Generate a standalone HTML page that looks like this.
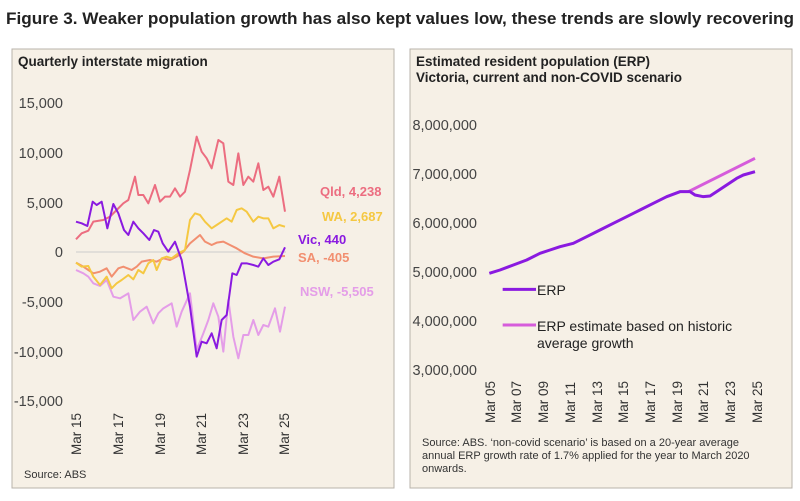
<!DOCTYPE html>
<html><head><meta charset="utf-8"><style>
body{margin:0;background:#fff;width:800px;height:496px;overflow:hidden;font-family:"Liberation Sans",sans-serif}
</style></head><body>
<svg width="800" height="496" xmlns="http://www.w3.org/2000/svg" font-family="Liberation Sans, sans-serif">
<rect width="800" height="496" fill="#fff"/>
<text x="6" y="24" font-size="17" font-weight="bold" fill="#222" textLength="788" lengthAdjust="spacingAndGlyphs">Figure 3. Weaker population growth has also kept values low, these trends are slowly recovering</text>
<rect x="12" y="49" width="382" height="439" fill="#f6f0e6" stroke="#b8b3ab" stroke-width="1"/>
<rect x="410" y="49" width="382" height="439" fill="#f6f0e6" stroke="#b8b3ab" stroke-width="1"/>
<text x="18" y="66" font-size="13.5" font-weight="bold" fill="#222">Quarterly interstate migration</text>
<g font-size="14.5" fill="#444" text-anchor="end">
<text x="63" y="108">15,000</text><text x="63" y="158">10,000</text><text x="63" y="208">5,000</text>
<text x="63" y="257">0</text><text x="63" y="307">-5,000</text><text x="63" y="357">-10,000</text><text x="63" y="406">-15,000</text>
</g>
<line x1="76" y1="252" x2="286" y2="252" stroke="#ccc" stroke-width="1"/>
<g font-size="13.5" fill="#333">
<text transform="translate(81,455) rotate(-90)">Mar 15</text>
<text transform="translate(123,455) rotate(-90)">Mar 17</text>
<text transform="translate(165,455) rotate(-90)">Mar 19</text>
<text transform="translate(206,455) rotate(-90)">Mar 21</text>
<text transform="translate(248,455) rotate(-90)">Mar 23</text>
<text transform="translate(289,455) rotate(-90)">Mar 25</text>
</g>
<text x="24" y="478" font-size="11" fill="#333">Source: ABS</text>
<g transform="translate(0,40) scale(0.33333)" fill="none" stroke-width="6" stroke-linejoin="round">
<polyline stroke="#e49de8" points="228,690 250,700 265,710 280,730 300,738 320,720 340,770 360,775 385,760 400,840 420,815 440,800 460,850 475,820 490,805 515,790 530,860 545,815 570,760 590,930 610,880 625,840 640,790 655,830 670,935 685,780 700,890 715,955 730,885 745,885 760,840 775,885 790,855 805,860 825,805 840,875 855,800"/>
<polyline stroke="#f28f70" points="228,668 250,680 265,690 280,700 300,695 320,685 335,710 355,685 370,680 395,690 410,680 425,665 450,660 470,665 490,655 510,660 530,650 550,635 570,610 600,585 615,605 635,615 650,608 670,605 690,615 710,625 735,640 760,650 790,655 820,650 855,648"/>
<polyline stroke="#f5c842" points="228,668 245,680 265,678 280,710 300,735 320,710 335,745 350,730 365,720 385,705 400,718 415,690 430,700 445,670 460,660 470,690 485,655 500,650 515,655 535,640 555,630 570,540 585,520 600,525 615,545 635,565 650,555 665,545 680,535 695,545 710,510 725,505 740,515 760,545 775,530 790,535 805,535 820,565 838,555 855,560"/>
<polyline stroke="#ec6d80" points="228,598 245,580 265,572 280,545 310,540 330,530 350,510 370,490 385,480 405,410 415,465 430,465 445,490 465,435 480,485 495,470 510,470 525,445 540,470 555,455 570,390 590,290 605,335 620,355 635,385 655,300 670,310 685,425 700,435 715,340 730,435 745,410 760,425 775,370 790,450 805,440 820,470 838,410 855,515"/>
<polyline stroke="#8a1ae0" points="228,545 245,550 262,558 278,485 290,495 305,485 322,565 340,492 355,520 372,570 385,585 400,545 415,565 430,580 448,600 462,570 475,575 488,610 505,635 525,605 545,660 570,800 590,950 605,905 620,910 635,880 650,925 665,840 680,825 697,700 710,705 725,670 740,670 760,675 775,680 790,655 805,675 820,665 838,658 855,622"/>
</g>
<g font-size="13" font-weight="bold">
<text x="320" y="196" fill="#ec6d80">Qld, 4,238</text>
<text x="322" y="221" fill="#f5c842">WA, 2,687</text>
<text x="298" y="244" fill="#8a1ae0">Vic, 440</text>
<text x="298" y="262" fill="#f28f70">SA, -405</text>
<text x="300" y="296" fill="#e49de8">NSW, -5,505</text>
</g>
<text x="416" y="66" font-size="13.5" font-weight="bold" fill="#222">Estimated resident population (ERP)</text>
<text x="416" y="82" font-size="13.5" font-weight="bold" fill="#222">Victoria, current and non-COVID scenario</text>
<g font-size="14.5" fill="#444" text-anchor="end">
<text x="477" y="130">8,000,000</text><text x="477" y="179">7,000,000</text><text x="477" y="228">6,000,000</text>
<text x="477" y="277">5,000,000</text><text x="477" y="326">4,000,000</text><text x="477" y="375">3,000,000</text>
</g>
<g font-size="13.5" fill="#333">
<text transform="translate(495,423) rotate(-90)">Mar 05</text>
<text transform="translate(521,423) rotate(-90)">Mar 07</text>
<text transform="translate(548,423) rotate(-90)">Mar 09</text>
<text transform="translate(575,423) rotate(-90)">Mar 11</text>
<text transform="translate(602,423) rotate(-90)">Mar 13</text>
<text transform="translate(628,423) rotate(-90)">Mar 15</text>
<text transform="translate(655,423) rotate(-90)">Mar 17</text>
<text transform="translate(682,423) rotate(-90)">Mar 19</text>
<text transform="translate(708,423) rotate(-90)">Mar 21</text>
<text transform="translate(735,423) rotate(-90)">Mar 23</text>
<text transform="translate(762,423) rotate(-90)">Mar 25</text>
</g>
<g transform="translate(400,40) scale(0.33333)" fill="none" stroke-linejoin="round">
<polyline stroke="#d65cdb" stroke-width="9" points="865,455 1065,355"/>
<polyline stroke="#8a1ae0" stroke-width="9" points="268,700 300,690 340,675 380,660 420,640 450,630 480,620 520,610 560,590 600,570 640,550 680,530 720,510 760,490 800,470 840,455 870,455 885,465 910,470 930,468 950,455 980,435 1010,415 1030,405 1065,395"/>
<line x1="308" y1="748" x2="408" y2="748" stroke="#8a1ae0" stroke-width="9"/>
<line x1="308" y1="855" x2="408" y2="855" stroke="#d65cdb" stroke-width="9"/>
</g>
<g font-size="14" fill="#222">
<text x="537" y="295">ERP</text>
<text x="537" y="331">ERP estimate based on historic</text>
<text x="537" y="348">average growth</text>
</g>
<g font-size="11" fill="#333">
<text x="422" y="446">Source: ABS. ‘non-covid scenario’ is based on a 20-year average</text>
<text x="422" y="459">annual ERP growth rate of 1.7% applied for the year to March 2020</text>
<text x="422" y="472">onwards.</text>
</g>
</svg>
</body></html>
